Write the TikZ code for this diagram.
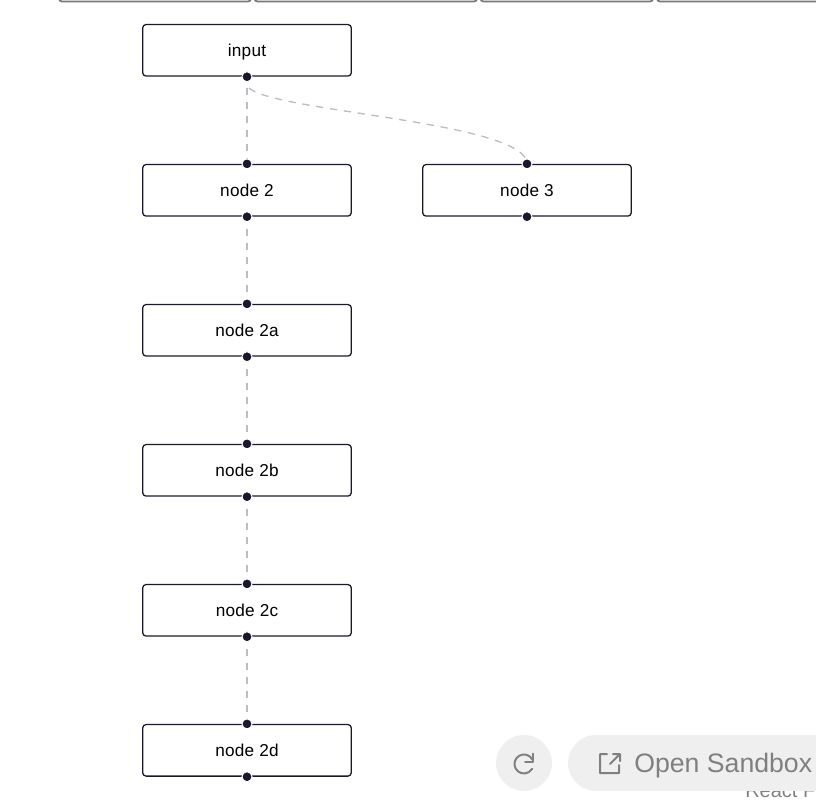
\documentclass[tikz,border=0pt]{standalone}
\usepackage{fontspec}
\setmainfont{Liberation Sans}
\definecolor{ink}{HTML}{1A192B}
\definecolor{edgegray}{HTML}{BCBCC1}
\definecolor{pillgray}{HTML}{EFEFEF}
\definecolor{pilltext}{HTML}{808080}
\definecolor{tabline}{HTML}{777777}
\tikzset{
  flowbox/.style={draw=ink,line width=0.95pt,rounded corners=2.6pt,fill=white,minimum width=156.5pt,minimum height=38.7pt,inner sep=0pt,text height=10.1pt,text depth=1.5pt,font=\fontsize{12.9}{14}\selectfont\addfontfeatures{LetterSpace=1.5},text=black},
  dot/.style={circle,fill=ink,draw=white,line width=0.75pt,minimum size=7.5pt,inner sep=0pt},
  flowedge/.style={edgegray,line width=1pt,dash pattern=on 5.5pt off 5pt},
  tab/.style={draw=tabline,line width=1.3pt,rounded corners=2.2pt}
}
\begin{document}
\begin{tikzpicture}[x=0.75pt,y=-0.75pt]
\useasboundingbox (0,0) rectangle (816,800);
% tab row, cut off at the top edge
\begin{scope}
\clip (0,0) rectangle (816,800);
\draw[tab] (59,-20) rectangle (251,1.5);
\draw[tab] (254.5,-20) rectangle (477,1.5);
\draw[tab] (480.5,-20) rectangle (653,1.5);
\draw[tab] (657,-20) rectangle (840,1.5);
\end{scope}
% nodes
\node[flowbox] (input) at (247,50.3) {input};
\node[flowbox] (n2) at (247,190.3) {node 2};
\node[flowbox] (n3) at (527,190.3) {node 3};
\node[flowbox] (n2a) at (247,330.3) {node 2a};
\node[flowbox] (n2b) at (247,470.3) {node 2b};
\node[flowbox] (n2c) at (247,610.3) {node 2c};
\node[flowbox] (n2d) at (247,750.3) {node 2d};
% connectors
\coordinate (s1) at ([yshift=-8.25pt]input.south);
\coordinate (s2) at ([xshift=1.5pt,yshift=-8.5pt]input.south);
\draw[flowedge] (s1) -- (n2.north);
\draw[flowedge] (s2) .. controls (275,112) and (527,122) .. (n3.north);
\draw[flowedge,shorten <=9.2pt] (n2.south) -- (n2a.north);
\draw[flowedge,shorten <=9.2pt] (n2a.south) -- (n2b.north);
\draw[flowedge,shorten <=9.2pt] (n2b.south) -- (n2c.north);
\draw[flowedge,shorten <=9.2pt] (n2c.south) -- (n2d.north);
% handles
\node[dot] at (input.south) {};
\foreach \n in {n2,n3,n2a,n2b,n2c,n2d}{
  \node[dot] at (\n.north) {};
  \node[dot] at (\n.south) {};
}
% lower right controls
\begin{scope}
\clip (0,0) rectangle (816,800);
\node[font=\fontsize{15}{17}\selectfont,text=pilltext,anchor=base west,inner sep=0pt] (react) at (745,797) {React F};
\fill[white] (700,791) rectangle (816,780);
\fill[pillgray] (524,763) circle (28);
\fill[pillgray] (596,763) circle (28);
\fill[pillgray] (596,735) rectangle (840,791);
\draw[pilltext,line width=1.5pt,line cap=round,line join=round] (533,753.5) -- (533,762) -- (525,762);
\draw[pilltext,line width=1.5pt,line cap=round] (532.2,759.2) arc (-30:-330:9.5);
\draw[pilltext,line width=1.5pt,line cap=round,line join=round] (607,754) -- (600,754) -- (600,773) -- (619,773) -- (619,765) (610,764) -- (620,754) (613,754) -- (620,754) -- (620,761);
\node[font=\fontsize{20}{24}\selectfont,text=pilltext,anchor=base west,inner sep=0pt] (open) at (634,772.5) {Open Sandbox};
\end{scope}
\end{tikzpicture}
\end{document}
